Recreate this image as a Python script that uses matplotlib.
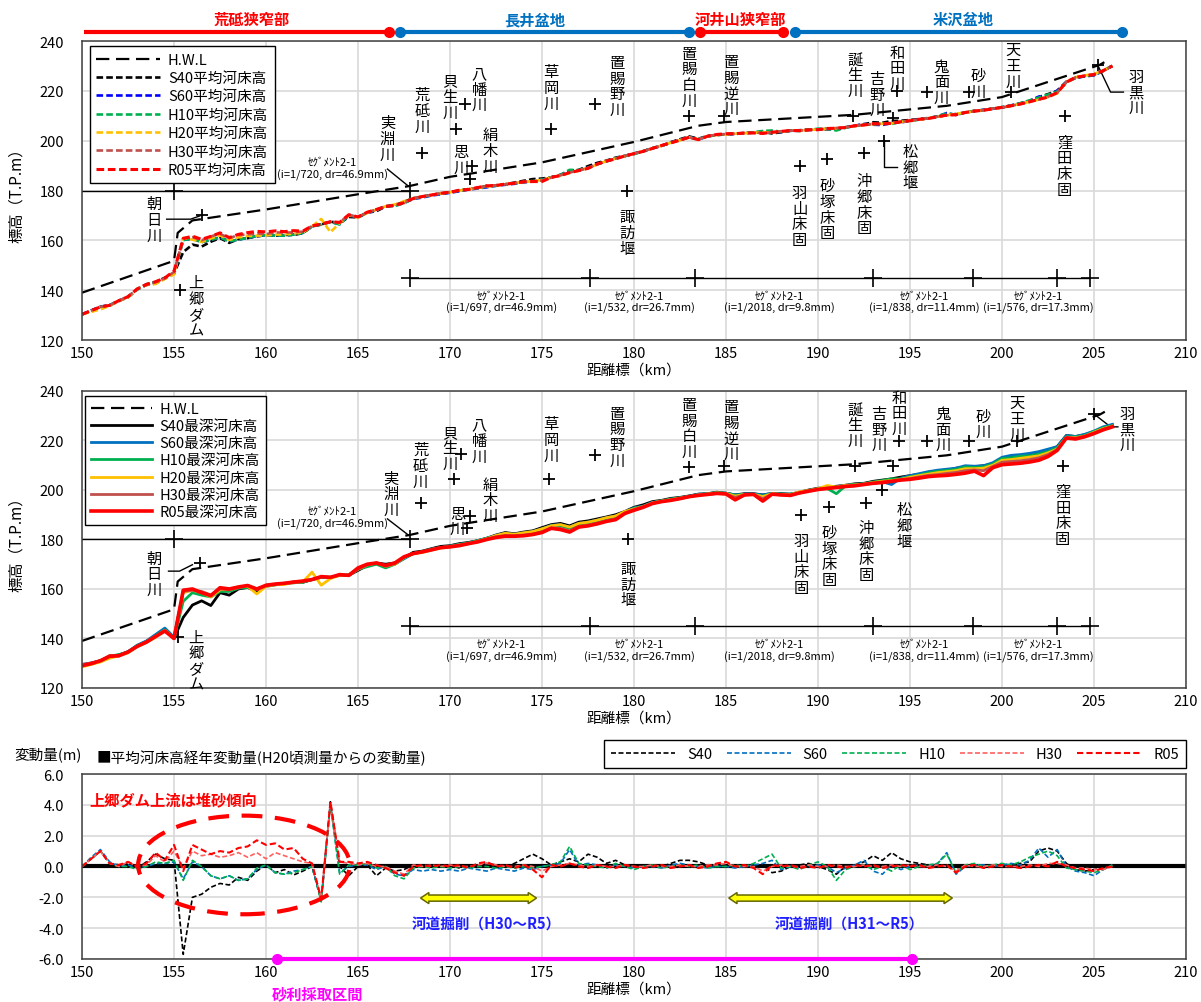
import numpy as np
import matplotlib
matplotlib.use('Agg')
import matplotlib.pyplot as plt
import matplotlib.patches as mpatches
from matplotlib.ticker import FormatStrFormatter

plt.rcParams['font.family'] = ['Noto Sans CJK JP', 'DejaVu Sans']
plt.rcParams['axes.unicode_minus'] = False

# distance marks (km), every 0.5 km
km = np.arange(150.0, 206.01, 0.5)

# H.W.L
hwl_km = [150, 155, 155.2, 156, 160, 165, 167.8, 170, 175, 180, 183.5, 185, 192, 197, 200, 205.3, 205.8]
hwl = [139.0, 151.8, 163.0, 168.0, 172.4, 178.5, 181.8, 185.5, 191.3, 199.5, 206.0, 207.5, 210.4, 214.0, 217.5, 230.4, 232.5]

# H20 mean bed elevation (T.P.m)
mean_h20 = [
    130.3, 131.3, 132.3, 133.7, 135.7, 137.1, 140.5, 142.1, 142.5, 144.5,
    146.3, 161.0, 160.3, 159.3, 160.8, 162.0, 160.2, 161.2, 161.8, 161.9,
    162.0, 162.3, 162.4, 162.7, 163.2, 165.6, 168.6, 163.3, 166.9, 170.0,
    169.2, 171.0, 172.3, 173.7, 174.4, 175.7, 176.8, 177.5, 178.2, 178.8,
    179.3, 180.0, 180.5, 181.0, 181.6, 182.0, 182.5, 183.0, 183.4, 183.8,
    184.3, 185.2, 186.0, 187.0, 188.0, 189.0, 190.5, 191.8, 192.8, 193.8,
    194.8, 195.8, 196.9, 198.0, 199.2, 200.2, 201.3, 200.5, 201.8, 202.3,
    202.5, 202.8, 203.0, 203.2, 203.4, 203.3, 203.7, 204.0, 204.1, 204.3,
    204.5, 204.8, 205.0, 205.4, 205.9, 206.3, 206.7, 206.8, 207.0, 207.5,
    208.0, 208.5, 209.0, 209.6, 210.2, 210.8, 211.3, 211.8, 212.3, 212.8,
    213.3, 214.0, 214.8, 215.6, 216.5, 217.5, 219.0, 223.5, 225.5, 226.2,
    226.8, 228.2, 230.0]

# change of mean bed from H20 survey (m)
chg_s40 = [
    0.0, 0.5, 1.0, 0.2, 0.1, 0.2, -0.1, 0.3, 0.8, 0.5,
    0.4, -5.7, -2.0, -1.8, -1.35, -1.1, -1.2, -0.7, -0.9, -0.3,
    0.1, -0.4, -0.2, -0.55, -0.3, 0.0, -2.2, 4.2, 0.0, -0.6,
    0.0, 0.1, -0.6, -0.1, -0.3, -0.2, 0.1, 0.0, 0.1, 0.0,
    0.1, -0.1, 0.1, 0.0, 0.2, 0.1, 0.0, 0.2, 0.5, 0.8,
    0.5, 0.1, 0.3, 0.5, 0.3, 0.8, 0.6, 0.2, 0.4, 0.1,
    0.1, 0.0, 0.1, 0.0, 0.2, 0.4, 0.4, 0.3, 0.1, 0.0,
    0.1, 0.0, 0.1, 0.0, 0.1, -0.4, -0.3, 0.0, 0.1, 0.2,
    0.0, -0.2, -0.5, 0.0, 0.1, 0.3, 0.7, 0.4, 0.9, 0.5,
    0.3, 0.2, 0.1, 0.0, 0.1, -0.1, 0.0, 0.1, 0.0, 0.1,
    0.0, 0.1, 0.2, 0.3, 1.0, 1.2, 1.0, 0.2, -0.2, -0.3,
    -0.2, -0.1, 0.0]
chg_s60 = [
    0.0, 0.6, 1.1, 0.3, 0.0, 0.1, -0.1, 0.0, 0.2, 0.2,
    0.3, -0.8, 0.3, 0.0, -0.6, -0.8, -0.6, -0.9, -0.8, -0.2,
    0.1, -0.4, -0.5, -0.3, -0.2, 0.0, -2.2, 4.1, -0.4, 0.0,
    0.1, 0.1, -0.2, 0.0, -0.5, -0.6, -0.2, -0.3, -0.2, -0.3,
    -0.2, -0.3, -0.1, -0.2, -0.3, -0.1, -0.2, -0.3, -0.1, -0.2,
    0.0, 0.1, 0.2, 1.1, 0.1, 0.2, 0.1, -0.1, 0.1, 0.0,
    -0.1, 0.0, 0.0, -0.1, 0.1, 0.2, 0.1, 0.0, -0.1, 0.0,
    0.0, -0.1, 0.0, 0.1, 0.2, 0.4, -0.2, 0.0, -0.1, 0.0,
    0.1, 0.0, -0.4, -0.1, 0.1, 0.4, -0.3, -0.5, 0.1, -0.2,
    0.0, 0.1, 0.0, 0.2, 0.9, -0.5, 0.0, 0.1, 0.1, 0.0,
    0.1, 0.2, 0.1, 0.4, 1.2, 0.6, 1.1, 0.0, -0.3, -0.4,
    -0.6, -0.2, 0.1]
chg_h10 = [
    0.0, 0.5, 1.0, 0.2, 0.0, 0.0, -0.2, 0.0, 0.3, 0.2,
    0.4, -0.9, 0.4, 0.0, -0.6, -0.8, -0.6, -0.9, -0.8, -0.1,
    0.1, -0.4, -0.5, -0.4, -0.2, 0.0, -2.3, 4.0, -0.5, 0.1,
    0.1, 0.2, -0.1, 0.0, -0.6, -0.8, -0.1, 0.0, -0.1, 0.0,
    -0.1, 0.0, -0.1, 0.0, 0.0, -0.1, 0.0, -0.1, 0.0, -0.1,
    0.0, 0.1, 0.3, 1.3, 0.2, 0.1, 0.0, -0.1, 0.2, 0.0,
    -0.2, 0.0, 0.1, -0.1, 0.0, 0.1, 0.0, 0.1, -0.1, 0.0,
    0.0, 0.1, 0.0, 0.2, 0.5, 0.8, -0.1, 0.0, -0.2, 0.1,
    0.3, 0.0, -0.9, -0.2, 0.0, 0.1, -0.2, 0.0, -0.3, 0.1,
    -0.2, 0.0, 0.1, 0.2, 0.8, -0.4, 0.1, 0.2, 0.0, 0.1,
    0.2, 0.1, 0.3, 0.6, 0.8, 1.0, 0.7, -0.1, -0.2, -0.3,
    -0.4, -0.2, 0.1]
chg_h30 = [
    0.0, 0.5, 1.0, 0.2, 0.0, 0.3, 0.0, 0.1, 0.7, 0.3,
    1.0, -0.1, 1.0, 0.7, 0.8, 0.6, 0.7, 0.9, 0.6, 0.9,
    0.5, 0.9, 0.7, 0.5, 0.3, 0.2, -2.1, 4.1, 0.3, 0.2,
    0.1, 0.2, 0.0, 0.0, -0.3, -0.5, 0.1, 0.0, 0.1, 0.0,
    0.1, 0.0, 0.0, 0.1, 0.2, 0.1, 0.0, 0.0, 0.1, 0.0,
    -0.3, 0.0, 0.1, 0.2, 0.1, 0.0, 0.1, 0.0, 0.0, 0.1,
    0.0, 0.0, 0.1, 0.0, 0.0, 0.1, 0.0, 0.0, 0.1, 0.1,
    0.2, 0.0, 0.0, 0.0, -0.3, 0.0, 0.1, 0.0, 0.0, 0.1,
    0.0, 0.0, 0.1, 0.0, 0.0, 0.1, 0.0, 0.0, 0.1, 0.0,
    0.1, 0.0, 0.0, 0.1, 0.0, -0.3, 0.1, 0.0, 0.0, 0.1,
    0.0, 0.0, 0.0, 0.1, 0.0, 0.2, 0.2, 0.1, -0.1, -0.1,
    -0.2, -0.2, 0.0]
chg_r05 = [
    0.0, 0.5, 1.0, 0.2, 0.1, 0.3, 0.0, 0.2, 0.9, 0.4,
    1.4, -0.3, 1.4, 1.1, 0.8, 1.0, 0.9, 1.2, 1.3, 1.7,
    1.4, 1.5, 1.1, 1.2, 0.5, 0.2, -2.1, 4.2, 0.3, 0.3,
    0.2, 0.3, 0.1, -0.1, -0.4, -0.6, 0.0, 0.1, 0.0, 0.1,
    0.0, 0.1, -0.1, 0.2, 0.3, 0.0, 0.1, -0.1, 0.1, -0.2,
    -0.7, 0.1, 0.0, 0.2, 0.0, -0.1, 0.1, 0.0, -0.1, 0.1,
    0.0, -0.1, 0.0, 0.1, -0.1, 0.0, 0.1, -0.1, 0.0, 0.2,
    0.3, 0.0, 0.1, -0.1, -0.5, 0.1, 0.0, 0.1, -0.1, 0.0,
    -0.1, 0.1, 0.0, -0.1, 0.1, 0.0, 0.1, -0.1, 0.0, 0.1,
    0.0, 0.1, -0.1, 0.0, 0.1, -0.4, 0.0, 0.1, -0.1, 0.0,
    0.1, 0.0, -0.1, 0.0, 0.1, 0.0, 0.3, 0.0, -0.1, -0.2,
    -0.3, -0.1, 0.0]

# R05 deepest bed elevation (T.P.m)
deep_r05 = [
    129.0, 129.8, 131.0, 132.8, 133.0, 134.5, 136.8, 138.5, 140.8, 143.0,
    140.0, 159.5, 160.0, 158.5, 157.3, 160.5, 160.0, 160.8, 161.4, 160.0,
    161.5, 162.0, 162.3, 162.8, 163.2, 163.8, 165.0, 164.7, 165.8, 165.5,
    168.5, 170.0, 170.5, 169.5, 170.5, 173.0, 174.3, 175.0, 175.8, 176.7,
    177.0, 177.5, 178.3, 179.0, 180.0, 180.8, 181.3, 181.3, 181.5, 182.0,
    182.8, 184.5, 184.0, 183.0, 185.0, 185.5, 186.3, 187.3, 188.0, 190.5,
    191.8, 193.0, 194.5, 195.3, 195.8, 196.5, 197.3, 197.8, 198.2, 198.6,
    198.4, 196.0, 198.0, 198.2, 195.5, 198.3, 198.0, 197.8, 198.8, 199.5,
    200.2, 200.6, 201.0, 201.4, 201.7, 202.2, 202.7, 203.0, 203.5, 204.0,
    204.3, 204.8, 205.4, 205.7, 205.9, 206.3, 206.8, 207.6, 205.8, 209.0,
    210.2, 210.5, 210.8, 211.3, 212.0, 213.5, 216.0, 221.0, 220.6, 221.5,
    222.8, 224.3, 225.5]

# gap of the other deepest bed surveys above R05 (m)
gap_s40 = [
    0.3, 0.2, 0.0, -0.3, 0.3, 0.0, 0.2, 0.3, 0.0, 0.5,
    0.0, -11.0, -6.5, -3.3, -4.0, -2.0, -2.5, -0.8, -0.8, -1.0,
    0.0, -0.3, -0.2, 0.0, -0.5, 0.0, -0.3, 0.0, -0.3, 0.0,
    -1.0, -0.5, 0.0, 0.5, 0.0, -0.5, 0.5, 0.3, 0.5, 0.5,
    0.5, 0.8, 0.5, 0.5, 0.5, 1.0, 1.5, 1.0, 1.5, 1.5,
    2.0, 1.5, 2.5, 2.5, 2.0, 2.0, 2.0, 1.8, 2.0, 0.8,
    1.2, 1.0, 0.8, 0.5, 0.8, 0.5, 0.3, 0.5, 0.3, 0.5,
    0.3, 2.0, 0.5, 0.3, 2.5, 0.3, 0.5, 0.5, 0.3, 0.5,
    0.5, 0.3, 0.5, 0.5, 0.8, 0.5, 0.8, 1.0, 1.0, 1.2,
    1.5, 1.5, 1.8, 2.0, 2.0, 2.5, 2.5, 1.8, 4.0, 1.5,
    2.5, 3.0, 3.0, 3.0, 3.0, 2.5, 1.5, 1.0, 1.0, 0.8,
    0.8, 0.5, 0.8]
gap_s60 = [
    0.5, 0.3, 0.0, 0.0, 0.3, 0.2, 0.5, 0.5, 0.8, 1.2,
    0.5, -0.5, -0.5, 0.0, -0.3, -0.5, -0.5, -0.3, -0.3, 0.0,
    -0.3, -0.3, -0.2, 0.0, -0.3, 0.0, -0.2, 0.0, -0.2, 0.0,
    -0.5, -0.5, -0.2, 0.0, -0.5, -0.8, 0.0, 0.0, 0.3, 0.0,
    0.3, 0.5, 0.3, 0.5, 0.5, 0.8, 1.2, 0.8, 1.2, 1.2,
    1.5, 1.2, 2.0, 2.0, 1.5, 1.5, 1.5, 1.5, 1.5, 0.5,
    1.0, 0.5, 0.5, 0.3, 0.5, 0.3, 0.2, 0.5, 0.3, 0.3,
    0.3, 2.0, 0.3, 0.2, 2.5, 0.3, 0.3, 0.5, 0.2, 0.3,
    0.3, 0.2, 0.3, 0.5, 0.5, 0.3, 0.5, 0.3, -1.3, 0.8,
    1.5, 1.8, 2.0, 2.3, 2.5, 2.5, 3.0, 2.0, 4.0, 2.0,
    3.0, 3.5, 3.5, 3.5, 3.5, 3.0, 1.5, 1.0, 1.0, 1.0,
    1.0, 1.2, 1.0]
gap_h10 = [
    0.3, 0.0, -0.3, 0.0, 0.5, 0.0, 0.3, 0.0, 0.3, 0.5,
    0.0, -4.5, -1.5, -1.0, -0.5, -1.5, -1.0, -0.5, -0.8, 0.0,
    -0.5, -0.3, 0.0, -0.3, -0.5, 0.0, -0.3, 0.0, -0.3, 0.3,
    -0.5, -1.0, -0.5, -1.0, -0.5, -0.5, 0.0, 0.0, 0.3, 0.0,
    0.3, 0.5, 0.3, 0.5, 0.5, 0.5, 1.0, 0.5, 1.0, 1.0,
    1.2, 1.0, 1.5, 1.5, 1.2, 1.2, 1.2, 1.2, 1.2, 0.5,
    0.8, 0.3, 0.3, 0.3, 0.5, 0.3, 0.0, 0.3, 0.2, 0.3,
    0.2, 1.8, 0.2, 0.0, 2.0, 0.2, 0.3, 0.5, 0.0, 0.3,
    0.2, 0.0, -2.5, 0.3, 0.5, 0.3, 0.5, 0.8, 1.0, 0.5,
    1.0, 1.2, 1.5, 1.8, 2.0, 2.0, 2.5, 1.5, 3.5, 1.5,
    2.5, 2.5, 2.8, 2.5, 2.5, 2.0, 1.0, 0.5, 0.8, 0.5,
    0.8, 0.8, 0.5]
gap_h20 = [
    -0.5, -0.3, -0.5, -0.8, 0.0, -0.3, 0.0, 0.0, -0.3, 0.3,
    0.0, -1.0, -0.5, 0.0, -0.5, -0.8, -0.3, 0.0, -0.3, -2.0,
    -0.5, -0.3, -0.5, 0.0, -0.3, 3.0, -3.5, -0.5, -0.3, 0.0,
    -0.5, -0.3, 0.0, -0.3, -0.5, -0.3, 0.0, -0.3, 0.0, -0.2,
    0.0, 0.3, 0.0, 0.3, 0.3, 0.8, 1.2, 0.8, 1.2, 1.2,
    1.5, 1.0, 2.0, 2.0, 1.5, 1.5, 1.5, 1.5, 1.5, 0.8,
    0.5, 0.3, 0.3, 0.2, 0.3, 0.2, 0.0, 0.2, 0.2, 0.2,
    0.2, 1.5, 0.2, 0.0, 1.8, 0.2, 0.2, 0.3, 0.5, 0.3,
    0.3, 1.2, 0.2, 0.5, 0.3, 0.2, 0.3, 0.5, 0.3, 0.3,
    0.8, 1.0, 1.0, 1.3, 1.5, 1.5, 1.8, 1.0, 3.0, 1.0,
    1.8, 1.8, 2.0, 2.0, 1.8, 1.5, 0.5, 0.3, 0.5, 0.3,
    0.5, 0.5, 0.3]
gap_h30 = [
    0.5, 0.3, 0.0, 0.3, 0.0, 0.2, 0.0, 0.3, 0.0, 0.2,
    0.0, -0.5, -0.5, 0.5, 0.3, -0.5, -0.3, -0.3, 0.0, -0.3,
    -0.3, -0.2, 0.0, -0.3, -0.2, 0.0, -0.2, 0.0, -0.2, 0.0,
    -0.5, -0.3, 0.0, -0.3, -0.3, -0.2, 0.0, 0.0, 0.2, 0.0,
    0.2, 0.3, 0.0, 0.3, 0.2, 0.3, 0.3, 0.2, 0.3, 0.2,
    0.3, 0.2, 0.5, 0.5, 0.3, 0.2, 0.3, 0.2, 0.3, 0.2,
    0.3, 0.2, 0.2, 0.0, 0.2, 0.0, 0.0, 0.2, 0.0, 0.0,
    0.0, 1.0, 0.0, 0.0, 1.0, 0.0, 0.0, 0.2, 0.0, 0.2,
    0.0, 0.2, 0.0, 0.2, 0.0, 0.2, 0.0, 0.2, 0.0, 0.2,
    0.3, 0.5, 0.5, 0.5, 0.8, 0.8, 1.0, 0.5, 2.0, 0.5,
    1.0, 1.0, 1.0, 1.0, 1.0, 0.8, 0.3, 0.2, 0.3, 0.2,
    0.2, 0.2, 0.2]

# river reaches on top
reach_names = ['荒砥狭窄部', '長井盆地', '河井山狭窄部', '米沢盆地']
reach_start = [150.1, 167.3, 183.6, 188.75]
reach_end = [166.7, 183.0, 188.1, 206.5]
reach_label_km = [159.2, 174.6, 185.8, 197.9]
reach_colors = ['#FF0000', '#0070C0', '#FF0000', '#0070C0']

# segment bars
upper_seg_km = [150.0, 155.0, 167.8]
seg_km = [167.8, 177.6, 183.3, 193.0, 198.4, 203.0, 204.8]
seg_label_km = [172.8, 180.3, 187.9, 195.8, 202.0]
seg_labels = ['(i=1/697, dr=46.9mm)', '(i=1/532, dr=26.7mm)', '(i=1/2018, dr=9.8mm)',
              '(i=1/838, dr=11.4mm)', '(i=1/576, dr=17.3mm)']

# name, text km, text m, cross km, cross m
marks1 = [
    ('朝日川', 153.9, 168.5, 156.5, 170.0), ('上郷ダム', 156.2, 133.5, 155.3, 140.1),
    ('実淵川', 166.6, 201.0, None, None), ('荒砥川', 168.5, 212.1, 168.5, 195.0),
    ('貝生川', 170.0, 217.7, 170.3, 204.7), ('八幡川', 171.6, 220.7, 170.8, 214.7),
    ('思川', 170.6, 192.4, 171.2, 189.8), ('絹木川', 172.2, 196.0, 171.1, 184.6),
    ('草岡川', 175.5, 221.3, 175.5, 204.7), ('置賜野川', 179.1, 222.0, 177.9, 214.7),
    ('諏訪堰', 179.6, 163.2, 179.6, 179.9), ('置賜白川', 183.0, 225.7, 183.0, 209.8),
    ('置賜逆川', 185.3, 222.3, 184.9, 209.8), ('羽山床固', 189.0, 169.8, 189.0, 189.9),
    ('砂塚床固', 190.5, 172.5, 190.5, 192.6), ('沖郷床固', 192.5, 174.5, 192.5, 195.0),
    ('松郷堰', 195.0, 189.4, 193.6, 200.0), ('誕生川', 192.0, 226.5, 191.9, 209.8),
    ('吉野川', 193.2, 218.7, 194.1, 209.3), ('和田川', 194.3, 229.2, 194.3, 220.0),
    ('鬼面川', 196.7, 223.7, 195.9, 219.6), ('砂川', 198.7, 222.9, 198.2, 219.6),
    ('天王川', 200.6, 230.2, 200.5, 219.5), ('窪田床固', 203.4, 190.0, 203.4, 209.8),
    ('羽黒川', 207.3, 219.5, 205.2, 230.4),
]
marks2 = [
    ('朝日川', 153.9, 166.1, 156.4, 170.4), ('上郷ダム', 156.2, 131.0, 155.2, 140.5),
    ('実淵川', 166.8, 198.5, None, None), ('荒砥川', 168.4, 210.0, 168.4, 194.7),
    ('貝生川', 170.0, 217.0, 170.2, 204.3), ('八幡川', 171.6, 220.0, 170.6, 214.4),
    ('思川', 170.4, 187.5, 171.1, 189.6), ('絹木川', 172.2, 196.0, 170.9, 184.7),
    ('草岡川', 175.5, 220.5, 175.4, 204.3), ('置賜野川', 179.1, 221.5, 177.9, 214.2),
    ('諏訪堰', 179.7, 162.0, 179.7, 180.0), ('置賜白川', 183.0, 225.0, 183.0, 209.3),
    ('置賜逆川', 185.3, 224.2, 184.9, 209.7), ('羽山床固', 189.1, 170.1, 189.1, 189.9),
    ('砂塚床固', 190.6, 173.3, 190.6, 193.1), ('沖郷床固', 192.6, 175.4, 192.6, 194.7),
    ('松郷堰', 194.7, 185.7, 193.5, 200.0), ('誕生川', 192.0, 226.3, 192.0, 209.7),
    ('吉野川', 193.3, 224.6, 194.1, 209.7), ('和田川', 194.4, 231.1, 194.4, 219.8),
    ('鬼面川', 196.8, 224.6, 195.9, 219.8), ('砂川', 199.0, 226.7, 198.2, 219.8),
    ('天王川', 200.8, 229.0, 200.8, 219.8), ('窪田床固', 203.3, 189.9, 203.3, 209.7),
    ('羽黒川', 206.8, 224.6, 205.0, 230.7),
]
leaders1 = [([154.6, 155.9, 156.4], [168.5, 168.5, 169.8]),
            ([166.6, 167.7], [188.6, 182.0]),
            ([193.6, 193.6, 194.3], [200.0, 189.3, 189.3]),
            ([206.6, 205.9, 205.2], [219.5, 219.5, 230.4])]
leaders2 = [([154.7, 155.3, 156.0], [167.2, 167.2, 169.8]),
            ([166.6, 167.7], [188.3, 182.0]),
            ([206.3, 205.9, 205.0], [225.5, 225.5, 230.7])]

surveys = ['S40', 'S60', 'H10', 'H20', 'H30', 'R05']
mean_colors = ['black', '#0000FF', '#00B050', '#FFC000', '#C0504D', '#FF0000']
deep_colors = ['black', '#0070C0', '#00B050', '#FFC000', '#C0504D', '#FF0000']
chg_names = ['S40', 'S60', 'H10', 'H30', 'R05']
chg_colors = ['black', '#0070C0', '#00B050', '#FF6060', '#FF0000']

h20 = np.array(mean_h20)
mean_series = [h20 + np.array(chg_s40), h20 + np.array(chg_s60), h20 + np.array(chg_h10),
               h20, h20 + np.array(chg_h30), h20 + np.array(chg_r05)]
r05 = np.array(deep_r05)
deep_series = [r05 + np.array(gap_s40), r05 + np.array(gap_s60), r05 + np.array(gap_h10),
               r05 + np.array(gap_h20), r05 + np.array(gap_h30), r05]
chg_series = [chg_s40, chg_s60, chg_h10, chg_h30, chg_r05]

fig = plt.figure(figsize=(12.01, 10.03), dpi=100)
ax1 = fig.add_axes([0.0683, 0.660, 0.9192, 0.2981])
ax2 = fig.add_axes([0.0683, 0.3131, 0.9192, 0.2961])
ax3 = fig.add_axes([0.0683, 0.0429, 0.9192, 0.1844])


def base_axes(ax):
    ax.set_xlim(150, 210)
    ax.set_xticks(range(150, 211, 5))
    ax.grid(color='#D9D9D9', lw=1.2)
    ax.set_axisbelow(True)
    ax.tick_params(axis='x', length=0, labelsize=10.5, pad=4)
    ax.tick_params(axis='y', length=0, labelsize=10.5, pad=13)
    for s in ax.spines.values():
        s.set_color('#404040')
        s.set_linewidth(1.1)
    ax.set_xlabel('距離標（km）', fontsize=10.5, labelpad=2)


def profile_axes(ax, marks, leaders):
    base_axes(ax)
    ax.set_ylim(120, 240)
    ax.set_yticks(range(120, 241, 20))
    ax.set_ylabel('標高（T.P.m）', fontsize=11, labelpad=10)
    for name, tx, ty, cx, cy in marks:
        ax.text(tx, ty, '\n'.join(name), ha='center', va='center', fontsize=11, linespacing=0.9)
        if cx is not None:
            ax.plot(cx, cy, '+', color='black', ms=9, mew=1.3)
    for lx, ly in leaders:
        ax.plot(lx, ly, color='black', lw=1)
    ax.plot(upper_seg_km, [180] * len(upper_seg_km), color='black', lw=1,
            marker='+', ms=13, mew=1.2, markevery=[1, 2])
    ax.plot(seg_km, [145] * len(seg_km), color='black', lw=1, marker='+', ms=13, mew=1.2)
    ax.text(163.6, 189.0, 'ｾｸﾞﾒﾝﾄ2-1\n(i=1/720, dr=46.9mm)', ha='center', va='center', fontsize=8)
    for sk, sl in zip(seg_label_km, seg_labels):
        ax.text(sk, 135.3, 'ｾｸﾞﾒﾝﾄ2-1\n' + sl, ha='center', va='center', fontsize=8)


# panel 1: mean bed
profile_axes(ax1, marks1, leaders1)
ax1.plot(hwl_km, hwl, color='black', lw=1.6, ls=(0, (6, 3)), label='H.W.L')
for name, col, ys in zip(surveys, mean_colors, mean_series):
    ax1.plot(km, ys, color=col, lw=2.2 if name == 'R05' else 1.9, ls=(0, (2.5, 1.2)),
             label=name + '平均河床高')
ax1.legend(loc='upper left', bbox_to_anchor=(0.007, 0.983), borderaxespad=0, fontsize=10.5,
           handlelength=4.4, labelspacing=0.3, handletextpad=0.5, borderpad=0.45,
           fancybox=False, edgecolor='black', framealpha=1)
for name, s, e, lk, c, i in zip(reach_names, reach_start, reach_end, reach_label_km, reach_colors,
                                range(4)):
    ax1.plot([s, e], [243.7, 243.7], color=c, lw=3, clip_on=False, solid_capstyle='butt')
    ax1.plot([s, e] if i > 0 else [e], [243.7] * (2 if i > 0 else 1), 'o', color=c, ms=7,
             clip_on=False)
    ax1.text(lk, 248.8, name, color=c, fontsize=11, fontweight='bold', ha='center',
             va='center', clip_on=False)

# panel 2: deepest bed
profile_axes(ax2, marks2, leaders2)
ax2.plot(hwl_km, hwl, color='black', lw=1.6, ls=(0, (6, 3)), label='H.W.L')
for name, col, ys in zip(surveys, deep_colors, deep_series):
    ax2.plot(km, ys, color=col, lw=2.6 if name == 'R05' else 2.0, label=name + '最深河床高')
ax2.legend(loc='upper left', bbox_to_anchor=(0.003, 0.983), borderaxespad=0, fontsize=10.5,
           handlelength=4.2, labelspacing=0.22, handletextpad=0.5, borderpad=0.4,
           fancybox=False, edgecolor='black', framealpha=1)

# panel 3: change of mean bed
base_axes(ax3)
ax3.set_ylim(-6, 6)
ax3.set_yticks(np.arange(-6, 6.1, 2))
ax3.yaxis.set_major_formatter(FormatStrFormatter('%.1f'))
ax3.axhline(0, color='black', lw=3, zorder=2)
for name, col, ys in zip(chg_names, chg_colors, chg_series):
    ax3.plot(km, ys, color=col, lw=1.5 if name == 'R05' else 1.2, ls=(0, (3, 1.5)), label=name)
ax3.legend(loc='lower right', bbox_to_anchor=(1.0, 1.03), ncol=5, borderaxespad=0,
           fontsize=10.5, handlelength=4.4, columnspacing=1.0, handletextpad=0.8,
           borderpad=0.5, fancybox=False, edgecolor='black', framealpha=1)
ax3.add_patch(mpatches.Ellipse((158.8, 0.1), 11.5, 6.4, fill=False, ec='#FF0000', lw=3,
                               ls=(0, (5, 3)), zorder=4))
ax3.text(150.4, 4.3, '上郷ダム上流は堆砂傾向', color='#FF0000', fontsize=11, fontweight='bold',
         ha='left', va='center')

dig_start = [168.4, 185.15]
dig_end = [174.7, 197.3]
dig_text_km = [172.0, 191.7]
dig_labels = ['河道掘削（H30～R5）', '河道掘削（H31～R5）']
for x0, x1, tk, tl in zip(dig_start, dig_end, dig_text_km, dig_labels):
    hl, bh, hh, yc = 0.45, 0.2, 0.36, -2.05
    pts = [(x0, yc), (x0 + hl, yc + hh), (x0 + hl, yc + bh), (x1 - hl, yc + bh),
           (x1 - hl, yc + hh), (x1, yc), (x1 - hl, yc - hh), (x1 - hl, yc - bh),
           (x0 + hl, yc - bh), (x0 + hl, yc - hh)]
    ax3.add_patch(mpatches.Polygon(pts, closed=True, fc='#FFFF00', ec='#666600', lw=1.1, zorder=5))
    ax3.text(tk, -3.7, tl, color='#1F1FFF', fontsize=10.5, fontweight='bold', ha='center',
             va='center')

gravel_km = [160.6, 195.1]
ax3.plot(gravel_km, [-6, -6], color='#FF00FF', lw=3, marker='o', ms=7, clip_on=False, zorder=6)
fig.text(0.2644, 0.009, '砂利採取区間', color='#FF00FF', fontsize=11, fontweight='bold',
         ha='center', va='center')
fig.text(0.0117, 0.2473, '変動量(m)', fontsize=10.5, ha='left', va='center')
fig.text(0.080, 0.2443, '■平均河床高経年変動量(H20頃測量からの変動量)', fontsize=10.5,
         ha='left', va='center')

fig.savefig('out.png', dpi=100)
